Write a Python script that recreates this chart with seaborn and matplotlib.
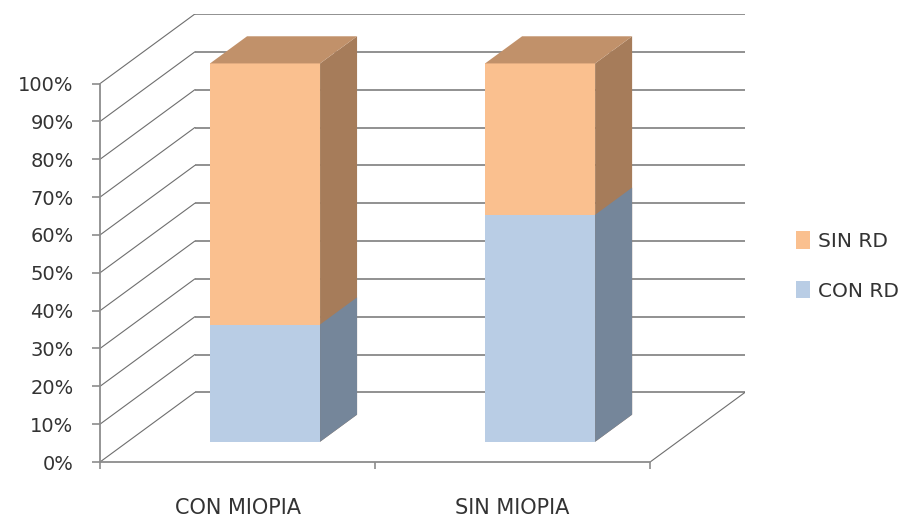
import matplotlib
matplotlib.use("Agg")
import matplotlib.pyplot as plt
import matplotlib.transforms as mtransforms
from matplotlib.patches import Polygon, Patch
import pandas as pd
import seaborn as sns

# ---- data ----
categories = ["CON MIOPIA", "SIN MIOPIA"]
series_names = ["CON RD", "SIN RD"]
con_rd = [31, 60]
sin_rd = [69, 40]
y_ticks = [0, 10, 20, 30, 40, 50, 60, 70, 80, 90, 100]
y_tick_labels = [f"{t}%" for t in y_ticks]

# ---- styling ----
front_colors = {"CON RD": "#B9CDE5", "SIN RD": "#FAC08F"}
side_colors = {"CON RD": "#75869A", "SIN RD": "#A67C5A"}
top_color = "#C1916A"
grid_color = "#8C8C8C"
diag_color = "#6E6E6E"
text_color = "#333333"

sns.set_theme(style="white")
plt.rcParams["font.family"] = ["DejaVu Sans"]

W, H = 910, 518
fig = plt.figure(figsize=(W / 100, H / 100), dpi=100)
ax = fig.add_axes([100 / W, (H - 462) / H, (745 - 100) / W, (462 - 14) / H])

# oblique depth of the chart box, in data units
DX, DY = 0.345, 18.4
BAR_D0, BAR_D = 0.29, 0.39     # bar depth start / bar depth as fraction of box depth
BAR_W = 0.4

df = pd.DataFrame({
    "categoria": categories,
    "total": [c + s for c, s in zip(con_rd, sin_rd)],
    "con": con_rd,
})

# front faces: stacked by overdrawing the lower segment on the total
sns.barplot(data=df, x="categoria", y="total", color=front_colors["SIN RD"],
            saturation=1, width=BAR_W, edgecolor="none", linewidth=0, ax=ax, zorder=3)
n_top = len(ax.patches)
sns.barplot(data=df, x="categoria", y="con", color=front_colors["CON RD"],
            saturation=1, width=BAR_W, edgecolor="none", linewidth=0, ax=ax, zorder=4)

shift = mtransforms.Affine2D().translate(BAR_D0 * DX, BAR_D0 * DY) + ax.transData
bdx, bdy = BAR_D * DX, BAR_D * DY
for i, p in enumerate(ax.patches):
    p.set_transform(shift)
    x0, w, y0, h = p.get_x(), p.get_width(), p.get_y(), p.get_height()
    key = "SIN RD" if i < n_top else "CON RD"
    side = Polygon([(x0 + w, y0), (x0 + w + bdx, y0 + bdy),
                    (x0 + w + bdx, y0 + h + bdy), (x0 + w, y0 + h)],
                   closed=True, facecolor=side_colors[key], edgecolor="none",
                   transform=shift, zorder=p.get_zorder())
    ax.add_patch(side)
    if i < n_top:
        top = Polygon([(x0, y0 + h), (x0 + w, y0 + h),
                       (x0 + w + bdx, y0 + h + bdy), (x0 + bdx, y0 + h + bdy)],
                      closed=True, facecolor=top_color, edgecolor="none",
                      transform=shift, zorder=p.get_zorder())
        ax.add_patch(top)

# back wall gridlines and side wall diagonals
x_left, x_right = -0.5, len(categories) - 0.5
for t in y_ticks:
    ax.plot([x_left + DX, x_right + DX], [t + DY, t + DY], color=grid_color, lw=1.35, zorder=1,
            solid_capstyle="butt")
    ax.plot([x_left, x_left + DX], [t, t + DY], color=diag_color, lw=0.8, zorder=1)
# floor right edge
ax.plot([x_right, x_right + DX], [0, DY], color=diag_color, lw=0.8, zorder=1)

ax.set_xlim(x_left, x_right + DX)
ax.set_ylim(0, 100 + DY)

# front axes
for s in ["top", "right"]:
    ax.spines[s].set_visible(False)
ax.spines["left"].set_bounds(0, 100)
ax.spines["bottom"].set_bounds(x_left, x_right)
for s in ["left", "bottom"]:
    ax.spines[s].set_color(grid_color)
    ax.spines[s].set_linewidth(1.3)

ax.set_yticks(y_ticks)
ax.set_yticklabels(y_tick_labels)
ax.set_xticks(range(len(categories)))
ax.set_xticklabels(categories)
ax.set_xticks([x_left + k for k in range(len(categories) + 1)], minor=True)
ax.tick_params(axis="y", which="major", direction="out", length=6, width=1.2,
               color=grid_color, pad=13, labelsize=14, labelcolor=text_color, left=True)
ax.tick_params(axis="x", which="major", length=0, pad=26, labelsize=15,
               labelcolor=text_color)
ax.tick_params(axis="x", which="minor", direction="out", length=5, width=1.2,
               color=grid_color, bottom=True)
ax.set_xlabel("")
ax.set_ylabel("")
ax.grid(False)

handles = [Patch(facecolor=front_colors["SIN RD"], edgecolor="none"),
           Patch(facecolor=front_colors["CON RD"], edgecolor="none")]
fig.legend(handles, ["SIN RD", "CON RD"], loc="center left",
           bbox_to_anchor=(796 / W, 1 - 266 / H), frameon=False, borderpad=0,
           borderaxespad=0, fontsize=14.5, labelcolor=text_color,
           handlelength=0.7, handleheight=0.95, handletextpad=0.4, labelspacing=1.5)

fig.savefig("out.png", dpi=100, facecolor="white")
